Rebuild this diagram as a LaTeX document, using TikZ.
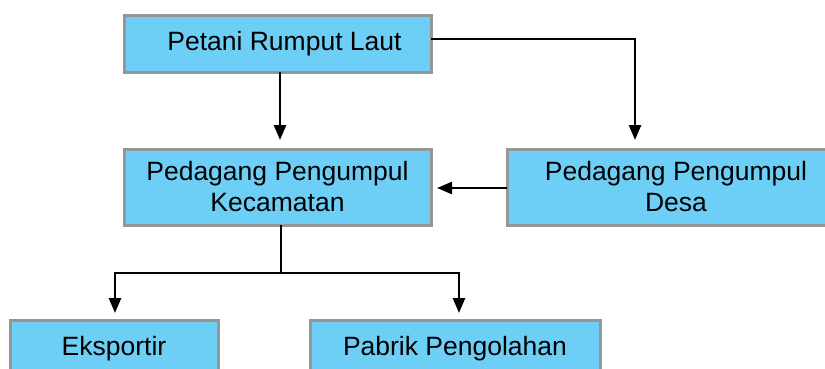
\documentclass[tikz,border=0pt]{standalone}
\usepackage{fontspec}
\setmainfont{Liberation Sans}
\usetikzlibrary{arrows.meta}
\definecolor{boxfill}{RGB}{110,207,246}
\definecolor{boxline}{RGB}{150,150,150}
\begin{document}
\begin{tikzpicture}[x=1pt,y=-1pt,
  box/.style={draw=boxline,line width=3pt,fill=boxfill,outer sep=0pt,inner sep=0pt,
    align=center,font=\fontsize{26.5}{31}\selectfont},
  flow/.style={line width=2.5pt,-{Triangle[length=15pt,width=12pt]}},
  plain/.style={line width=2.5pt}]
\useasboundingbox (0,0) rectangle (825,368);
\clip (0,0) rectangle (825,368);
\fill[white] (0,0) rectangle (825,368);

% boxes
\node[box,minimum width=307pt,minimum height=57pt] (petani) at (277.5,43.5)
  {\hspace*{14pt}Petani Rumput Laut};
\node[box,minimum width=307pt,minimum height=76pt] (kec) at (277.5,187)
  {Pedagang Pengumpul\\Kecamatan};
\node[box,minimum width=338pt,minimum height=76pt] (desa) at (676,187)
  {Pedagang Pengumpul\\Desa};
\node[box,minimum width=208pt,minimum height=57pt] (eks) at (114,348.5)
  {Eksportir};
\node[box,minimum width=290pt,minimum height=57pt] (pab) at (455,348.5)
  {Pabrik Pengolahan};

% connectors
\draw[flow,shorten >=9pt] ([xshift=2.5pt]petani.south) -- ([xshift=2.5pt]kec.north);
\draw[flow,shorten >=9pt] ([yshift=4.5pt]petani.east) -| ([xshift=-41pt]desa.north);
\draw[flow,shorten >=6pt] ([yshift=-1pt]desa.west) -- ([yshift=-1pt]kec.east);
\coordinate (split) at (281,273);
\draw[plain] ([xshift=3.5pt]kec.south) -- (split);
\draw[flow,shorten >=7pt] (split) -| ([xshift=1pt]eks.north);
\draw[flow,shorten >=7pt] (split) -| ([xshift=4pt]pab.north);
\end{tikzpicture}
\end{document}
